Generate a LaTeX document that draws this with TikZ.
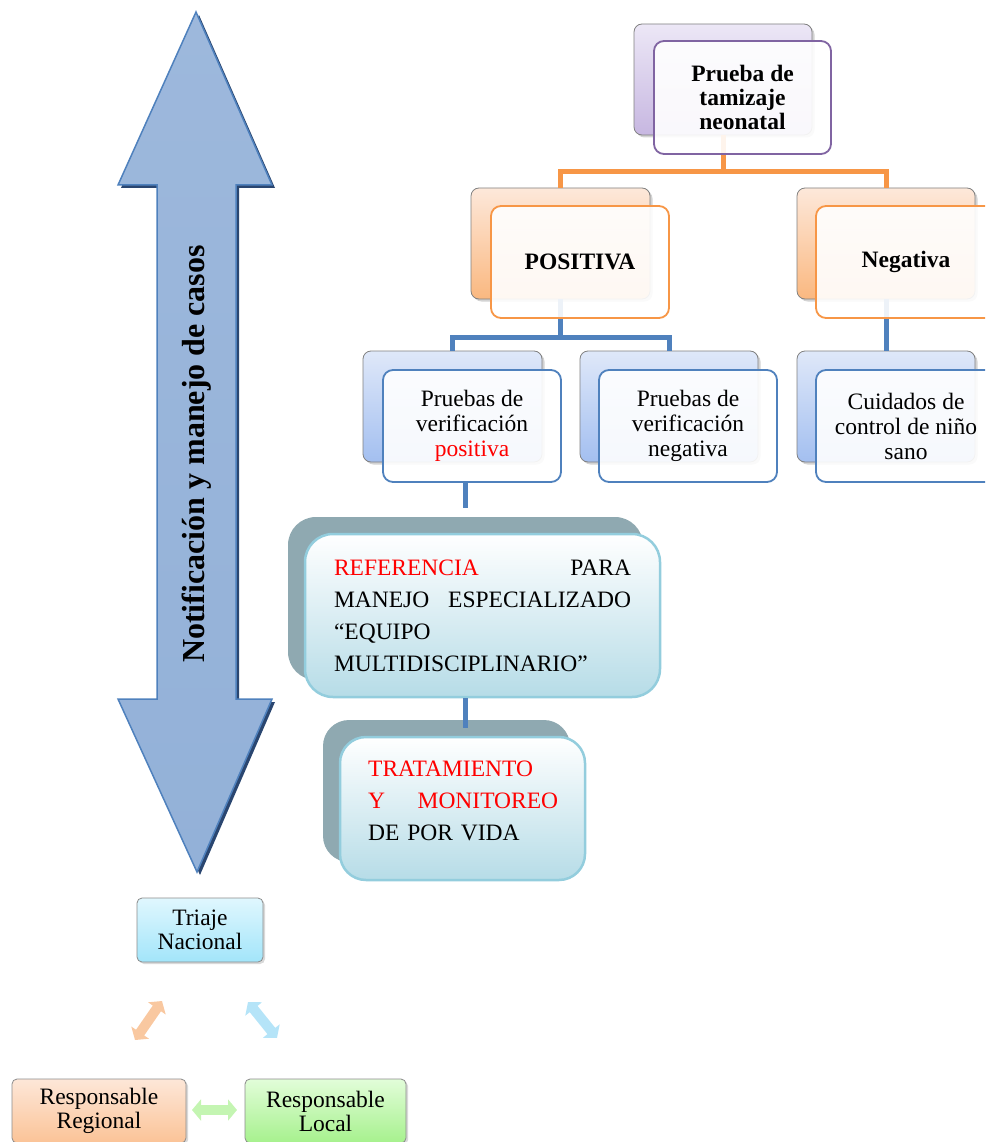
\documentclass[tikz,border=0pt]{standalone}
\usepackage{fontspec}
\setmainfont{Liberation Serif}
\usetikzlibrary{shadows,arrows.meta}
\definecolor{orC}{HTML}{F79646}
\definecolor{blC}{HTML}{4F81BD}
\definecolor{puC}{HTML}{8064A2}
\definecolor{puTop}{HTML}{ECE7F6}
\definecolor{puBot}{HTML}{C7B7E1}
\definecolor{orTop}{HTML}{FDE8DA}
\definecolor{orBot}{HTML}{FAB880}
\definecolor{blTop}{HTML}{DFE8F9}
\definecolor{blBot}{HTML}{A3BFF0}
\definecolor{refBack}{HTML}{8FA9B1}
\definecolor{refBot}{HTML}{B6DCE7}
\definecolor{refLine}{HTML}{93CDDD}
\definecolor{arrTop}{HTML}{9DB8DC}
\definecolor{arrMid}{HTML}{5A85C0}
\definecolor{arrBot}{HTML}{93B1D8}
\definecolor{arrShadow}{HTML}{2A4670}
\definecolor{cyTop}{HTML}{E0F7FE}
\definecolor{cyBot}{HTML}{A2E5FA}
\definecolor{rgTop}{HTML}{FDE7D8}
\definecolor{rgBot}{HTML}{FBC397}
\definecolor{lcTop}{HTML}{E2FDD9}
\definecolor{lcBot}{HTML}{A6F18D}
\definecolor{arO}{HTML}{F9C8A0}
\definecolor{arB}{HTML}{B5E4F8}
\definecolor{arG}{HTML}{C4F5B2}
\newcommand{\txt}{\fontsize{23.5}{25}\selectfont}
\begin{document}
\begin{tikzpicture}[x=1pt,y=-1pt,
  bsize/.style 2 args={minimum width=#1, minimum height=#2},
  backbox/.style={rounded corners=8pt, draw=black!50, line width=0.8pt, inner sep=0pt,
    drop shadow={shadow xshift=2.5pt, shadow yshift=-2.5pt, opacity=0.35}},
  frontbox/.style={rounded corners=10pt, line width=1.8pt, fill=white, fill opacity=0.9,
    text opacity=1, inner sep=0pt, align=center, font=\txt},
  oline/.style={draw=orC, line width=5pt},
  bline/.style={draw=blC, line width=5pt},
  smallbox/.style={rounded corners=5pt, draw=black!45, line width=0.8pt, inner sep=0pt,
    align=center, font=\fontsize{23.5}{24}\selectfont,
    drop shadow={shadow xshift=2pt, shadow yshift=-2pt, opacity=0.3}},
  dbl/.style={line width=10pt, {Triangle[length=9pt,width=21pt]}-{Triangle[length=9pt,width=21pt]}}
]
\clip (0,0) rectangle (985,1142);

% ---------- big double arrow ----------
\fill[arrShadow, shift={(3,3)}] (196,12) -- (272,185) -- (236,185) -- (236,699) -- (272,699)
  -- (197,872) -- (118,699) -- (157,699) -- (157,185) -- (118,185) -- cycle;
\draw[blC, line width=1.5pt, top color=arrTop, middle color=arrMid, bottom color=arrBot]
  (196,12) -- (272,185) -- (236,185) -- (236,699) -- (272,699)
  -- (197,872) -- (118,699) -- (157,699) -- (157,185) -- (118,185) -- cycle;
\node[rotate=90, font=\fontsize{32}{36}\selectfont\bfseries] (notif) at (197,454)
  {Notificación y manejo de casos};

% ---------- back boxes ----------
\node[backbox, bsize={178}{111}, top color=puTop, bottom color=puBot] (tb) at (723,79.5) {};
\node[backbox, bsize={179}{111}, top color=orTop, bottom color=orBot] (pb) at (560.5,243.5) {};
\node[backbox, bsize={178}{111}, top color=orTop, bottom color=orBot] (nb) at (886,243.5) {};
\node[backbox, bsize={179}{111}, top color=blTop, bottom color=blBot] (v1b) at (452.5,406.5) {};
\node[backbox, bsize={178}{111}, top color=blTop, bottom color=blBot] (v2b) at (669,406.5) {};
\node[backbox, bsize={178}{111}, top color=blTop, bottom color=blBot] (v3b) at (886,406.5) {};

% ---------- connectors (under front boxes) ----------
\coordinate (oy) at (723,172);
\coordinate (by) at (560.5,337);
\draw[oline] (tb.south) -- (tb.south |- oy);
\draw[oline] (pb.north) |- (oy) -| (nb.north);
\draw[bline] (pb.south) -- (by);
\draw[bline] (v1b.north) |- (by) -| (v2b.north);
\draw[bline] (nb.south) -- (v3b.north);

% ---------- front boxes ----------
\node[frontbox, draw=puC, bsize={177}{113}, font=\fontsize{23.5}{24}\selectfont\bfseries] (tf) at (742.5,97.5)
  {Prueba de\\tamizaje\\neonatal};
\node[frontbox, draw=orC, bsize={178}{112}, font=\fontsize{23.5}{25}\selectfont\bfseries] (pf) at (580,262) {POSITIVA};
\node[frontbox, draw=orC, bsize={180}{112}, font=\fontsize{23.5}{25}\selectfont\bfseries] (nf) at (906,262) {Negativa};
\node[frontbox, draw=blC, bsize={178}{112}] (v1f) at (472,426)
  {Pruebas de\\verificación\\\textcolor{red}{positiva}};
\node[frontbox, draw=blC, bsize={178}{112}] (v2f) at (688,426)
  {Pruebas de\\verificación\\negativa};
\node[frontbox, draw=blC, bsize={180}{112}] (v3f) at (906,426)
  {Cuidados de\\control de niño\\sano};

% ---------- referencia ----------
\node[fill=refBack, rounded corners=28pt, bsize={355}{163}, inner sep=0pt] (rb) at (465.5,598.5) {};
\coordinate (c1) at (465.5,508);
\draw[bline] (v1f.south -| rb.north) -- (c1);
\node[draw=refLine, line width=2.5pt, rounded corners=28pt, top color=white, bottom color=refBot,
  bsize={355}{163}, inner sep=0pt, text width=297pt, align=left,
  font=\fontsize{23.5}{32}\selectfont] (rf) at (482.5,615.5)
  {\textcolor{red}{REFERENCIA}\hfill PARA\\MANEJO\hfill ESPECIALIZADO\\“EQUIPO\\MULTIDISCIPLINARIO”};

% ---------- tratamiento ----------
\node[fill=refBack, rounded corners=26pt, bsize={247}{142}, inner sep=0pt] (trb) at (446.5,791) {};
\coordinate (c2) at (465.5,728);
\draw[bline] (rf.south -| c2) -- (c2);
\node[draw=refLine, line width=2.5pt, rounded corners=26pt, top color=white, bottom color=refBot,
  bsize={245}{143}, inner sep=0pt] (trf) at (462.5,808.5) {};
\node[anchor=north west, inner sep=0pt, text width=190pt, align=left,
  font=\fontsize{23.5}{32}\selectfont] (trt) at (368,761)
  {\textcolor{red}{TRATAMIENTO}\\\textcolor{red}{Y\hfill MONITOREO}\\DE POR VIDA};

% ---------- bottom triangle ----------
\node[smallbox, top color=cyTop, bottom color=cyBot, bsize={126}{64}] (tri) at (200,930)
  {Triaje\\Nacional};
\node[smallbox, top color=rgTop, bottom color=rgBot, bsize={174}{64}] (reg) at (99,1111)
  {Responsable\\Regional};
\node[smallbox, top color=lcTop, bottom color=lcBot, bsize={161}{64}] (loc) at (325.5,1111)
  {Responsable\\Local};

\coordinate (oa1) at (162,1001);
\coordinate (oa2) at (135,1040);
\coordinate (ba1) at (248,1002);
\coordinate (ba2) at (277,1038);
\coordinate (ga1) at (192,1110);
\coordinate (ga2) at (237,1110);
\draw[dbl, draw=arO, fill=arO] (oa1) -- (oa2);
\draw[dbl, draw=arB, fill=arB] (ba1) -- (ba2);
\draw[dbl, draw=arG, fill=arG] (ga1) -- (ga2);
\end{tikzpicture}
\end{document}
